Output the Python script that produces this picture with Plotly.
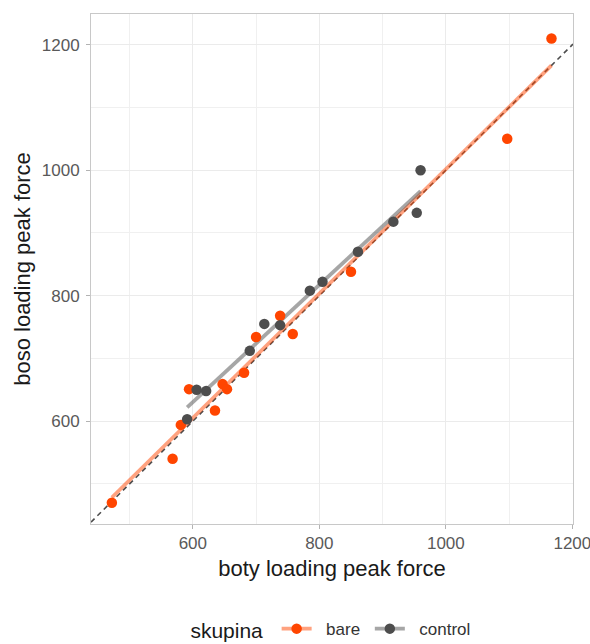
import numpy as np
import plotly.graph_objects as go

# Peak force: shod (boty) vs barefoot (boso) loading, by group
bare_boty = [472, 568, 581, 594, 635, 647, 654, 681, 700, 738, 758, 850, 1097, 1167]
bare_boso = [470, 540, 594, 651, 617, 659, 651, 677, 734, 768, 739, 838, 1050, 1210]

control_boty = [591, 606, 621, 690, 713, 738, 785, 805, 861, 917, 954, 960]
control_boso = [603, 650, 648, 712, 755, 753, 808, 822, 870, 918, 932, 1000]

groups = ["bare", "control"]
point_colors = {"bare": "#FF4500", "control": "#4D4D4D"}
fit_colors = {"bare": "rgba(255,69,0,0.5)", "control": "rgba(77,77,77,0.5)"}
data = {"bare": (bare_boty, bare_boso), "control": (control_boty, control_boso)}

major_ticks = [600, 800, 1000, 1200]
minor_ticks = [500, 700, 900, 1100]
x_range = [439, 1201]
y_range = [436, 1249]
font_family = "Liberation Sans, Arial, sans-serif"
NBSP = "\u00a0"

fig = go.Figure()

# identity reference line y = x
lo = max(x_range[0], y_range[0])
hi = min(x_range[1], y_range[1])
fig.add_trace(go.Scatter(
    x=[lo, hi], y=[lo, hi], mode="lines",
    line=dict(color="#4D4D4D", width=1.6, dash="5px,4px"),
    showlegend=False, hoverinfo="skip"))

# linear fit per group
for g in groups:
    xs, ys = np.array(data[g][0], float), np.array(data[g][1], float)
    slope, intercept = np.polyfit(xs, ys, 1)
    xl = np.array([xs.min(), xs.max()])
    fig.add_trace(go.Scatter(
        x=xl, y=slope * xl + intercept, mode="lines",
        line=dict(color=fit_colors[g], width=3.8),
        showlegend=False, hoverinfo="skip"))

# points
for g in groups:
    xs, ys = data[g]
    fig.add_trace(go.Scatter(
        x=xs, y=ys, mode="markers",
        marker=dict(color=point_colors[g], size=10.5),
        showlegend=False, name=g))

# legend keys: light line with solid point
for g in groups:
    fig.add_trace(go.Scatter(
        x=[None], y=[None], mode="lines+markers",
        name=NBSP * 2 + g + NBSP,
        line=dict(color=fit_colors[g], width=3.8),
        marker=dict(color=point_colors[g], size=10.5)))

axis_common = dict(
    showgrid=True, gridcolor="#EBEBEB", gridwidth=1,
    minor=dict(tickvals=minor_ticks, showgrid=True, gridcolor="#F0F0F0", gridwidth=0.8),
    zeroline=False,
    showline=True, linecolor="#C8C8C8", linewidth=1, mirror=True,
    ticks="outside", ticklen=4, tickcolor="#B3B3B3", tickwidth=1,
    tickfont=dict(size=17, color="#595959", family=font_family),
    title_font=dict(size=22, color="#1A1A1A", family=font_family),
    ticklabeloverflow="allow",
    automargin=False,
)

fig.update_layout(
    width=590, height=644,
    margin=dict(l=91, r=17, t=14, b=120, autoexpand=False),
    paper_bgcolor="white", plot_bgcolor="white",
    font=dict(family=font_family),
    xaxis=dict(range=x_range, tickvals=major_ticks,
               title=dict(text="boty loading peak force", standoff=8),
               **axis_common),
    yaxis=dict(range=y_range, tickvals=major_ticks, ticklabelstandoff=3,
               title=dict(text="boso loading peak force", standoff=5),
               **axis_common),
    legend=dict(
        orientation="h", x=0.505, xanchor="center", y=-0.208, yanchor="middle",
        title=dict(text="skupina" + NBSP, font=dict(size=21, color="#1A1A1A")),
        font=dict(size=17, color="#333333"),
        itemwidth=30,
    ),
)

fig.write_html("out.html")
